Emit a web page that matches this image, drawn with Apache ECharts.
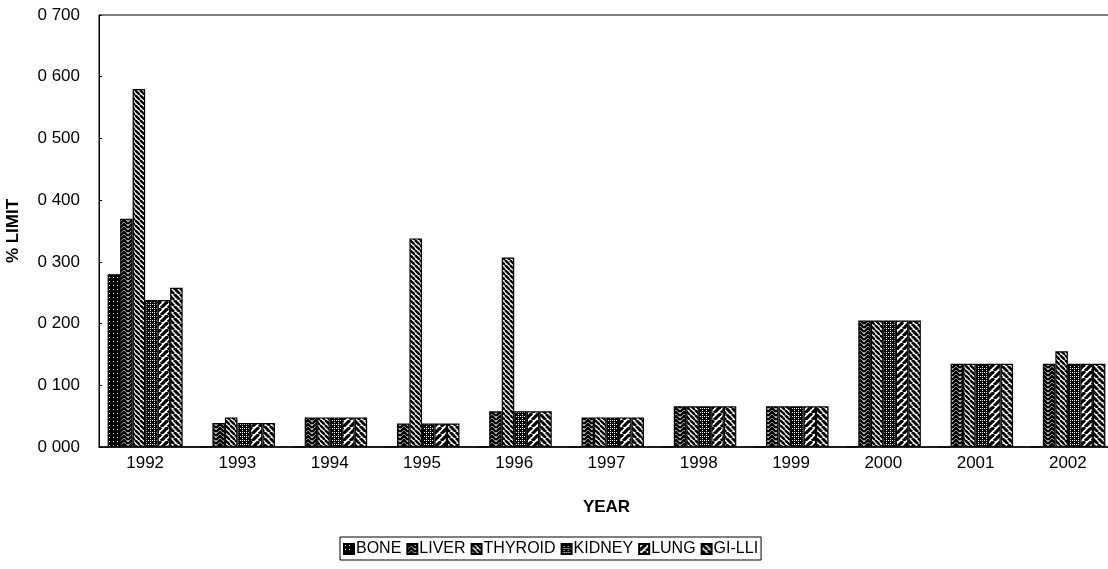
<!DOCTYPE html>
<html>
<head>
<meta charset="utf-8">
<script src="https://cdn.jsdelivr.net/npm/echarts@6/dist/echarts.min.js"></script>
<style>html,body{margin:0;padding:0;background:#fff}#c{width:1108px;height:569px}</style>
</head>
<body>
<div id="c"></div>
<script>
const years = ['1992','1993','1994','1995','1996','1997','1998','1999','2000','2001','2002'];
const seriesNames = ['BONE','LIVER','THYROID','KIDNEY','LUNG','GI-LLI'];
const bone    = [0.280, 0, 0, 0, 0, 0, 0, 0, 0, 0, 0];
const liver   = [0.370, 0.039, 0.048, 0.038, 0.058, 0.048, 0.066, 0.066, 0.205, 0.135, 0.135];
const thyroid = [0.580, 0.048, 0.048, 0.338, 0.307, 0.048, 0.066, 0.066, 0.205, 0.135, 0.155];
const kidney  = [0.238, 0.039, 0.048, 0.038, 0.058, 0.048, 0.066, 0.066, 0.205, 0.135, 0.135];
const lung    = [0.238, 0.039, 0.048, 0.038, 0.058, 0.048, 0.066, 0.066, 0.205, 0.135, 0.135];
const gilli   = [0.258, 0.039, 0.048, 0.038, 0.058, 0.048, 0.066, 0.066, 0.205, 0.135, 0.135];
const yTicks = [0, 0.1, 0.2, 0.3, 0.4, 0.5, 0.6, 0.7];

function mk(size, draw) {
  const c = document.createElement('canvas');
  c.width = size; c.height = size;
  const g = c.getContext('2d');
  g.fillStyle = '#fff'; g.fillRect(0, 0, size, size);
  g.strokeStyle = '#000'; g.fillStyle = '#000';
  draw(g, size);
  return { image: c, repeat: 'repeat' };
}
function diag(g, s, w, back) {
  g.lineWidth = w;
  for (let k = -2; k <= 2; k++) {
    g.beginPath();
    if (back) { g.moveTo(k * s, 0); g.lineTo(k * s + s, s); }
    else { g.moveTo(k * s, s); g.lineTo(k * s + s, 0); }
    g.stroke();
  }
}
const patterns = [
  mk(4, (g, s) => { g.fillStyle = '#000'; g.fillRect(0, 0, s, s); g.fillStyle = '#fff'; g.fillRect(1, 1, 1, 1); }),
  mk(8, (g, s) => { g.lineWidth = 2.4; g.beginPath(); g.moveTo(0, 8); g.lineTo(4, 4); g.lineTo(8, 8); g.moveTo(0, 4); g.lineTo(4, 0); g.lineTo(8, 4); g.stroke(); g.beginPath(); g.moveTo(0, 12); g.lineTo(4, 8); g.lineTo(8, 12); g.moveTo(0,0);g.lineTo(4,-4);g.lineTo(8,0); g.stroke(); }),
  mk(5, (g, s) => diag(g, s, 2.4, true)),
  mk(4, (g, s) => { g.fillStyle = '#000'; g.fillRect(0, 0, s, s); g.fillStyle = '#fff'; g.fillRect(0, 0, 1, 1); g.fillRect(2, 2, 1, 1); g.fillRect(2, 0, 1, 1); }),
  mk(7, (g, s) => diag(g, s, 3.2, false)),
  mk(6, (g, s) => diag(g, s, 3, true))
];
const dataArr = [bone, liver, thyroid, kidney, lung, gilli];

const chart = echarts.init(document.getElementById('c'), null, { renderer: 'canvas' });
const font = 'Liberation Sans, Arial, sans-serif';
chart.setOption({
  animation: false,
  backgroundColor: '#fff',
  grid: { left: 99, top: 15, width: 1015, height: 432, outerBoundsMode: 'none', containLabel: false,
          show: true, borderColor: '#000', borderWidth: 1, backgroundColor: 'transparent' },
  legend: {
    left: 340, top: 537,
    data: seriesNames,
    icon: 'rect', itemWidth: 10, itemHeight: 10, itemGap: 5,
    borderColor: '#000', borderWidth: 1, padding: [4, 3, 3, 3],
    textStyle: { fontFamily: font, fontSize: 16, color: '#000', padding: [0, 0, 0, -3] }
  },
  xAxis: {
    type: 'category', data: years,
    name: 'YEAR', nameLocation: 'middle', nameGap: 52,
    nameTextStyle: { fontFamily: font, fontSize: 17, fontWeight: 'bold', color: '#000' },
    axisLine: { lineStyle: { color: '#000', width: 1.5 } },
    axisTick: { inside: true, length: 6, lineStyle: { color: '#000' } },
    axisLabel: { fontFamily: font, fontSize: 17, color: '#000', margin: 8 }
  },
  yAxis: {
    type: 'value', min: 0, max: 0.7, interval: 0.1,
    name: '% LIMIT', nameLocation: 'middle', nameGap: 77, nameRotate: 90, nameMoveOverlap: false,
    nameTextStyle: { fontFamily: font, fontSize: 17, fontWeight: 'bold', color: '#000' },
    axisLine: { show: true, lineStyle: { color: '#000', width: 1 } },
    axisTick: { show: true, inside: true, length: 3, lineStyle: { color: '#000' } },
    splitLine: { show: false },
    axisLabel: {
      fontFamily: font, fontSize: 17, color: '#000', margin: 19,
      formatter: v => { const t = yTicks.find(x => Math.abs(x - v) < 1e-9); return '0 ' + String(Math.round((t === undefined ? v : t) * 1000)).padStart(3, '0'); }
    }
  },
  series: seriesNames.map((n, i) => ({
    name: n, type: 'bar', data: dataArr[i],
    barGap: '0%', barCategoryGap: '18.7%',
    itemStyle: { color: patterns[i], borderColor: '#000', borderWidth: 1.2 }
  }))
});
</script>
</body>
</html>
